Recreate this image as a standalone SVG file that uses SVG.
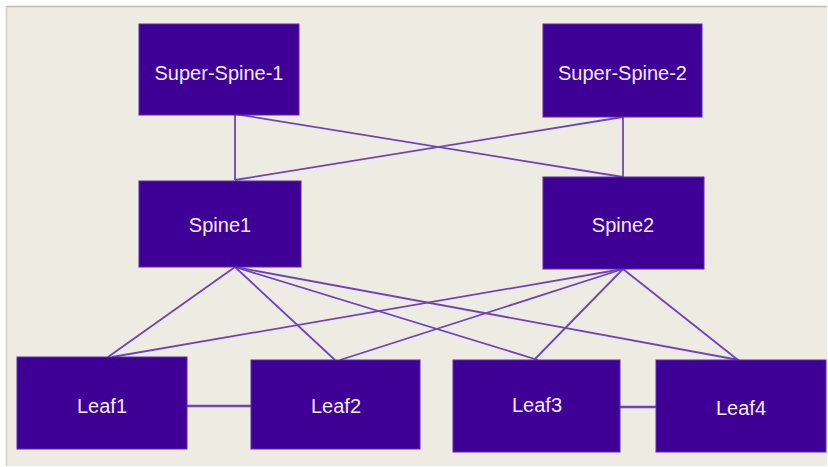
<svg xmlns="http://www.w3.org/2000/svg" width="828" height="467" viewBox="0 0 828 467">
<style>
.node rect{fill:#3f0096;stroke:#5a2ab0;stroke-width:1}
.node text{fill:#f2ecff;font-family:"Liberation Sans",Arial,sans-serif;font-size:20px;text-anchor:middle;dominant-baseline:central}
.edges line{stroke:#6b45bd;stroke-width:1.8}
.edges line.peer{stroke-width:2.4}
</style>
<rect x="0" y="0" width="828" height="467" fill="#ffffff"/>
<rect x="6" y="6" width="821" height="460" fill="#eeebe2"/>
<line x1="6" y1="6.5" x2="827" y2="6.5" stroke="#bcbab5" stroke-width="1.5"/>
<line x1="6.5" y1="6" x2="6.5" y2="466" stroke="#cfcdc7" stroke-width="1.5"/>
<g class="edges">
<line x1="235" y1="114" x2="235" y2="180"/>
<line x1="235" y1="114" x2="623" y2="177"/>
<line x1="623" y1="117" x2="235" y2="180"/>
<line x1="623" y1="117" x2="623" y2="177"/>
<line x1="235" y1="267" x2="108" y2="357"/>
<line x1="235" y1="267" x2="335" y2="360"/>
<line x1="235" y1="267" x2="538" y2="360"/>
<line x1="235" y1="267" x2="739" y2="360"/>
<line x1="623" y1="269" x2="112" y2="357"/>
<line x1="623" y1="269" x2="340" y2="360"/>
<line x1="623" y1="269" x2="534" y2="360"/>
<line x1="623" y1="269" x2="738" y2="360"/>
<line class="peer" x1="187" y1="406" x2="251" y2="406"/>
<line class="peer" x1="620" y1="407" x2="656" y2="407"/>
</g>
<g id="super-spine-1" class="node"><rect x="139" y="24" width="160" height="91"/><text x="219" y="73">Super-Spine-1</text></g>
<g id="super-spine-2" class="node"><rect x="543" y="24" width="159" height="93"/><text x="622.5" y="73">Super-Spine-2</text></g>
<g id="spine1" class="node"><rect x="139" y="181" width="162" height="86"/><text x="220" y="225">Spine1</text></g>
<g id="spine2" class="node"><rect x="543" y="177" width="161" height="92"/><text x="623" y="225">Spine2</text></g>
<g id="leaf1" class="node"><rect x="17" y="357" width="170" height="92"/><text x="102" y="406">Leaf1</text></g>
<g id="leaf2" class="node"><rect x="251" y="360" width="169" height="89"/><text x="336" y="406">Leaf2</text></g>
<g id="leaf3" class="node"><rect x="453" y="360" width="167" height="92"/><text x="537" y="405">Leaf3</text></g>
<g id="leaf4" class="node"><rect x="656" y="360" width="170" height="92"/><text x="741" y="408">Leaf4</text></g>
</svg>
